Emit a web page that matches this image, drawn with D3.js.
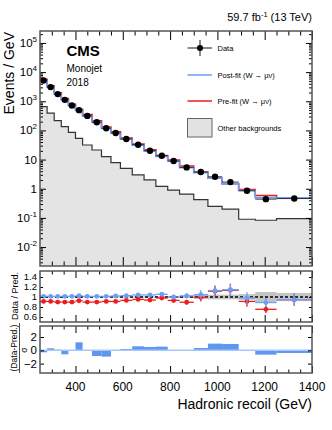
<!DOCTYPE html>
<html>
<head>
<meta charset="utf-8">
<script src="https://cdn.jsdelivr.net/npm/d3@7"></script>
<style>
body { margin: 0; background: #fff; }
svg { font-family: "Liberation Sans", Arial, sans-serif; }
</style>
</head>
<body>
<script>
// recoil bin edges (GeV)
var edges = [250, 280, 310, 340, 370, 400, 430, 470, 510, 550, 590, 640, 690, 740, 790, 840, 900, 960, 1020, 1090, 1160, 1250, 1400];
// events / GeV
var dataVals = [5170, 3060, 1760, 1120, 713, 495, 315, 191, 119, 82, 51, 32.4, 20.2, 13.5, 8.9, 5.4, 3.73, 2.57, 1.69, 0.85, 0.44, 0.46];
var dataRelErr = [0.003, 0.003, 0.005, 0.006, 0.007, 0.009, 0.011, 0.013, 0.016, 0.019, 0.023, 0.029, 0.035, 0.041, 0.047, 0.053, 0.082, 0.094, 0.111, 0.117, 0.1, 0.129];
var postFit = [5104, 3021, 1737, 1106, 704, 482, 311, 188.5, 117.5, 80.4, 49.7, 31.1, 19.4, 12.8, 8.9, 5.28, 3.56, 2.28, 1.47, 0.866, 0.495, 0.486];
var preFit = [5675, 3359, 1960, 1247, 794, 535, 351, 212.7, 130.6, 90, 54.7, 34, 21.5, 13.8, 9.55, 6.03, 3.75, 2.3, 1.49, 0.93, 0.584, 0.486];
var otherBkg = [658, 390, 217, 135, 86, 53, 31.6, 21.3, 12.6, 7.9, 5.0, 3.0, 2.0, 1.2, 0.9, 0.65, 0.42, 0.25, 0.2, 0.09, 0.083, 0.095];
// ratio panel
var ratioPost = [1.013, 1.013, 1.013, 1.013, 1.013, 1.027, 1.013, 1.013, 1.013, 1.02, 1.027, 1.041, 1.041, 1.055, 1.0, 1.023, 1.047, 1.129, 1.146, 0.982, 0.889, 0.947];
var ratioPre = [0.911, 0.911, 0.898, 0.898, 0.898, 0.925, 0.898, 0.898, 0.911, 0.911, 0.932, 0.952, 0.939, 0.98, 0.932, 0.895, 0.994, 1.117, 1.135, 0.912, 0.754, 0.947];
var predRelUnc = [0.006, 0.006, 0.006, 0.006, 0.006, 0.006, 0.007, 0.007, 0.009, 0.009, 0.012, 0.012, 0.015, 0.015, 0.018, 0.02, 0.041, 0.047, 0.047, 0.058, 0.1, 0.082];
// (Data-Pred.)/sigma
var pulls = [-0.3, 0.3, 0.1, -0.6, 0.05, 1.2, -0.05, -0.85, -0.95, 0.05, 0.2, 0.6, 0.5, 0.55, -0.1, -0.1, 0.35, 1.0, 0.95, -0.05, -0.65, -0.4];

var xTicks = [400, 600, 800, 1000, 1200, 1400];
var yDecades = [-2, -1, 0, 1, 2, 3, 4, 5];
var ratioTicks = [0.6, 0.8, 1, 1.2, 1.4];
var pullTicks = [-2, 0, 2];

var blue = '#6a9ff5', red = '#ee1c1c', frameCol = '#555';
var L = 40, R = 312;

var svg = d3.select('body').append('svg')
		.attr('width', 332)
		.attr('height', 430);

var x = d3.scaleLinear().domain([250, 1400]).range([L, R]);
var y = d3.scaleLog().domain([Math.pow(10, -2.65), Math.pow(10, 5.41)]).range([266, 31]);
var yr = d3.scaleLinear().domain([0.5, 1.52]).range([322, 271]);
var yp = d3.scaleLinear().domain([-3.41, 3.65]).range([373, 326]);

var bins = dataVals.map(function(d, i) {
	return { lo: edges[i], hi: edges[i + 1], c: (edges[i] + edges[i + 1]) / 2, i: i };
});

function stepPts(vals) {
	var pts = [];
	vals.forEach(function(v, i) {
		pts.push([edges[i], v]);
		pts.push([edges[i + 1], v]);
	});
	return pts;
}

svg.append('clipPath').attr('id', 'clipMain')
	.append('rect').attr('x', L).attr('y', 31).attr('width', R - L).attr('height', 235);
svg.append('clipPath').attr('id', 'clipRatio')
	.append('rect').attr('x', L).attr('y', 271).attr('width', R - L).attr('height', 51);

var main = svg.append('g').attr('clip-path', 'url(#clipMain)');

var area = d3.area()
		.x(function(d) { return x(d[0]); })
		.y0(266)
		.y1(function(d) { return y(d[1]); });
var line = d3.line()
		.x(function(d) { return x(d[0]); })
		.y(function(d) { return y(d[1]); });

main.append('path').attr('d', area(stepPts(otherBkg))).attr('fill', '#e4e4e4');
main.append('path').attr('d', line(stepPts(otherBkg))).attr('fill', 'none').attr('stroke', '#333').attr('stroke-width', 1.2);
main.append('path').attr('d', line(stepPts(preFit))).attr('fill', 'none').attr('stroke', red).attr('stroke-width', 1.6);
main.append('path').attr('d', line(stepPts(postFit))).attr('fill', 'none').attr('stroke', blue).attr('stroke-width', 1.6);

main.selectAll('.hbar')
		.data(bins)
	.enter().append('line')
		.attr('x1', function(d) { return x(d.lo); })
		.attr('x2', function(d) { return x(d.hi); })
		.attr('y1', function(d) { return y(dataVals[d.i]); })
		.attr('y2', function(d) { return y(dataVals[d.i]); })
		.attr('stroke', '#222').attr('stroke-width', 0.9);
main.selectAll('.vbar')
		.data(bins)
	.enter().append('line')
		.attr('x1', function(d) { return x(d.c); })
		.attr('x2', function(d) { return x(d.c); })
		.attr('y1', function(d) { return y(dataVals[d.i] * (1 + dataRelErr[d.i])); })
		.attr('y2', function(d) { return y(dataVals[d.i] * (1 - dataRelErr[d.i])); })
		.attr('stroke', '#000').attr('stroke-width', 1);
main.selectAll('.dot')
		.data(bins)
	.enter().append('circle')
		.attr('cx', function(d) { return x(d.c); })
		.attr('cy', function(d) { return y(dataVals[d.i]); })
		.attr('r', 3.2)
		.attr('fill', '#000');

// ratio panel
var rp = svg.append('g').attr('clip-path', 'url(#clipRatio)');
rp.selectAll('.band')
		.data(bins)
	.enter().append('rect')
		.attr('x', function(d) { return x(d.lo); })
		.attr('width', function(d) { return x(d.hi) - x(d.lo); })
		.attr('y', function(d) { return yr(1 + predRelUnc[d.i]); })
		.attr('height', function(d) { return yr(1 - predRelUnc[d.i]) - yr(1 + predRelUnc[d.i]); })
		.attr('fill', '#c4c4c4');
rp.append('line')
		.attr('x1', L).attr('x2', R).attr('y1', yr(1)).attr('y2', yr(1))
		.attr('stroke', '#000').attr('stroke-width', 1.6).attr('stroke-dasharray', '3,2');

function drawRatio(vals, col) {
	var g = rp.append('g');
	g.selectAll('.h').data(bins).enter().append('line')
		.attr('x1', function(d) { return x(d.lo); })
		.attr('x2', function(d) { return x(d.hi); })
		.attr('y1', function(d) { return yr(vals[d.i]); })
		.attr('y2', function(d) { return yr(vals[d.i]); })
		.attr('stroke', col).attr('stroke-width', 1.3);
	g.selectAll('.v').data(bins).enter().append('line')
		.attr('x1', function(d) { return x(d.c); })
		.attr('x2', function(d) { return x(d.c); })
		.attr('y1', function(d) { return yr(vals[d.i] * (1 + dataRelErr[d.i])); })
		.attr('y2', function(d) { return yr(vals[d.i] * (1 - dataRelErr[d.i])); })
		.attr('stroke', col).attr('stroke-width', 1.3);
	g.selectAll('circle').data(bins).enter().append('circle')
		.attr('cx', function(d) { return x(d.c); })
		.attr('cy', function(d) { return yr(vals[d.i]); })
		.attr('r', 2.4)
		.attr('fill', col);
}
drawRatio(ratioPre, red);
drawRatio(ratioPost, blue);

// pull panel
var pp = svg.append('g');
pp.selectAll('rect')
		.data(bins)
	.enter().append('rect')
		.attr('x', function(d) { return x(d.lo); })
		.attr('width', function(d) { return x(d.hi) - x(d.lo); })
		.attr('y', function(d) { return Math.min(yp(0), yp(pulls[d.i])); })
		.attr('height', function(d) { return Math.abs(yp(pulls[d.i]) - yp(0)); })
		.attr('fill', '#5f96f2');
pp.append('line')
		.attr('x1', L).attr('x2', R).attr('y1', yp(0)).attr('y2', yp(0))
		.attr('stroke', '#a9c8f7').attr('stroke-width', 1.4);

// frames and ticks
function xTicksFor(top, bottom, major, minor) {
	var minors = d3.range(300, 1400, 50).filter(function(v) { return xTicks.indexOf(v) < 0; });
	svg.append('g').attr('transform', 'translate(0,' + bottom + ')')
		.call(d3.axisBottom(x).tickValues(minors).tickSize(-minor).tickFormat(''))
		.call(function(g) { g.select('.domain').remove(); });
	svg.append('g').attr('transform', 'translate(0,' + bottom + ')')
		.call(d3.axisBottom(x).tickValues(xTicks).tickSize(-major).tickFormat(''))
		.call(function(g) { g.select('.domain').remove(); });
	svg.append('g').attr('transform', 'translate(0,' + top + ')')
		.call(d3.axisTop(x).tickValues(minors).tickSize(-minor).tickFormat(''))
		.call(function(g) { g.select('.domain').remove(); });
	svg.append('g').attr('transform', 'translate(0,' + top + ')')
		.call(d3.axisTop(x).tickValues(xTicks).tickSize(-major).tickFormat(''))
		.call(function(g) { g.select('.domain').remove(); });
}
xTicksFor(31, 266, 9, 4.5);
xTicksFor(271, 322, 7, 3.5);
xTicksFor(326, 373, 7, 3.5);

var logMajors = yDecades.map(function(e) { return Math.pow(10, e); });
var logMinors = [];
d3.range(-3, 6).forEach(function(e) {
	d3.range(2, 10).forEach(function(m) {
		var v = m * Math.pow(10, e);
		if (v > y.domain()[0] && v < y.domain()[1]) logMinors.push(v);
	});
});
[[d3.axisLeft, L], [d3.axisRight, R]].forEach(function(a) {
	svg.append('g').attr('transform', 'translate(' + a[1] + ',0)')
		.call(a[0](y).tickValues(logMinors).tickSize(-3).tickFormat(''))
		.call(function(g) { g.select('.domain').remove(); });
	svg.append('g').attr('transform', 'translate(' + a[1] + ',0)')
		.call(a[0](y).tickValues(logMajors).tickSize(-6).tickFormat(''))
		.call(function(g) { g.select('.domain').remove(); });
	svg.append('g').attr('transform', 'translate(' + a[1] + ',0)')
		.call(a[0](yr).tickValues(ratioTicks).tickSize(-3).tickFormat(''))
		.call(function(g) { g.select('.domain').remove(); });
	svg.append('g').attr('transform', 'translate(' + a[1] + ',0)')
		.call(a[0](yp).tickValues(pullTicks).tickSize(-4).tickFormat(''))
		.call(function(g) { g.select('.domain').remove(); });
});
svg.selectAll('.tick line').attr('stroke', '#000').attr('stroke-width', 1);

[[31, 266], [271, 322], [326, 373]].forEach(function(p) {
	svg.append('rect')
		.attr('x', L).attr('y', p[0]).attr('width', R - L).attr('height', p[1] - p[0])
		.attr('fill', 'none').attr('stroke', frameCol).attr('stroke-width', 1.5);
});

// tick labels
yDecades.forEach(function(e) {
	var t = svg.append('text')
		.attr('x', 37).attr('y', y(Math.pow(10, e)) + 4)
		.attr('text-anchor', 'end').attr('font-size', 11.5);
	if (e === 0) t.text('1');
	else if (e === 1) t.text('10');
	else {
		t.append('tspan').text('10');
		t.append('tspan').attr('dy', -5).attr('font-size', 8).text(e);
	}
});
ratioTicks.forEach(function(v) {
	svg.append('text')
		.attr('x', 37).attr('y', yr(v) + 3.4)
		.attr('text-anchor', 'end').attr('font-size', 9.5)
		.text(v);
});
pullTicks.forEach(function(v) {
	svg.append('text')
		.attr('x', 37).attr('y', yp(v) + 4)
		.attr('text-anchor', 'end').attr('font-size', 11.5)
		.text(v === -2 ? '\u22122' : v);
});
xTicks.forEach(function(v) {
	svg.append('text')
		.attr('x', x(v)).attr('y', 391)
		.attr('text-anchor', 'middle').attr('font-size', 12)
		.text(v);
});

// titles
svg.append('text')
	.attr('x', R).attr('y', 409).attr('text-anchor', 'end').attr('font-size', 14)
	.text('Hadronic recoil (GeV)');
svg.append('text')
	.attr('transform', 'translate(13.5,32) rotate(-90)')
	.attr('text-anchor', 'end').attr('font-size', 14)
	.text('Events / GeV');
svg.append('text')
	.attr('transform', 'translate(17.5,296) rotate(-90)')
	.attr('text-anchor', 'middle').attr('font-size', 9)
	.text('Data / Pred.');
svg.append('text')
	.attr('transform', 'translate(17,348) rotate(-90)')
	.attr('text-anchor', 'middle').attr('font-size', 8.5)
	.text('(Data-Pred.)');
svg.append('line')
	.attr('x1', 19.5).attr('x2', 19.5).attr('y1', 323).attr('y2', 373)
	.attr('stroke', '#000').attr('stroke-width', 0.7);
svg.append('text')
	.attr('transform', 'translate(27,350) rotate(-90)')
	.attr('text-anchor', 'middle').attr('font-size', 8.5)
	.text('\u03c3');

var lumi = svg.append('text')
	.attr('x', R).attr('y', 21).attr('text-anchor', 'end').attr('font-size', 11);
lumi.append('tspan').text('59.7 fb');
lumi.append('tspan').attr('dy', -4.5).attr('font-size', 7.5).text('-1');
lumi.append('tspan').attr('dy', 4.5).text(' (13 TeV)');

svg.append('text')
	.attr('x', 66.5).attr('y', 56).attr('font-size', 15).attr('font-weight', 'bold')
	.text('CMS');
svg.append('text')
	.attr('x', 66.5).attr('y', 72).attr('font-size', 10)
	.text('Monojet');
svg.append('text')
	.attr('x', 66.5).attr('y', 86).attr('font-size', 10)
	.text('2018');

// legend
var lg = svg.append('g');
lg.append('line').attr('x1', 187.5).attr('x2', 212).attr('y1', 48).attr('y2', 48).attr('stroke', '#666').attr('stroke-width', 1.5);
lg.append('line').attr('x1', 200).attr('x2', 200).attr('y1', 40).attr('y2', 56).attr('stroke', '#666').attr('stroke-width', 1.5);
lg.append('circle').attr('cx', 200).attr('cy', 48).attr('r', 3).attr('fill', '#000');
lg.append('line').attr('x1', 187.5).attr('x2', 212).attr('y1', 75).attr('y2', 75).attr('stroke', blue).attr('stroke-width', 1.5);
lg.append('line').attr('x1', 187.5).attr('x2', 212).attr('y1', 101).attr('y2', 101).attr('stroke', red).attr('stroke-width', 1.5);
lg.append('rect').attr('x', 187.5).attr('y', 118.5).attr('width', 24.5).attr('height', 18.5)
	.attr('fill', '#e2e2e2').attr('stroke', '#666').attr('stroke-width', 1);
var legendLabels = ['Data', 'Post-fit (W \u2192 \u03bc\u03bd)', 'Pre-fit (W \u2192 \u03bc\u03bd)', 'Other backgrounds'];
var legendY = [48, 75, 101, 128];
legendLabels.forEach(function(t, i) {
	lg.append('text')
		.attr('x', 217.5).attr('y', legendY[i]).attr('dy', '0.35em')
		.attr('font-size', 7.5)
		.text(t);
});
</script>
</body>
</html>
